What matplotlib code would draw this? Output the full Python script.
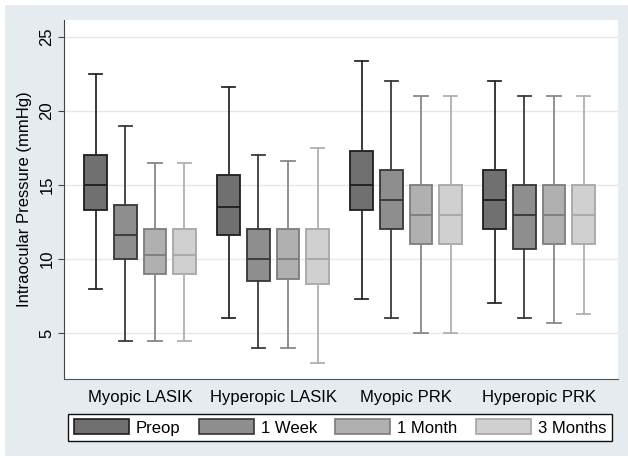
import matplotlib
matplotlib.use('Agg')
import matplotlib.pyplot as plt
from matplotlib.patches import Patch, Rectangle

plt.rcParams['font.family'] = ['Liberation Sans', 'DejaVu Sans']

# --- data ---
groups = ['Myopic LASIK', 'Hyperopic LASIK', 'Myopic PRK', 'Hyperopic PRK']
series = ['Preop', '1 Week', '1 Month', '3 Months']

# per series, one value per group: lower whisker, Q1, median, Q3, upper whisker
lo = [[8.0, 6.0, 7.3, 7.0],
      [4.5, 4.0, 6.0, 6.0],
      [4.5, 4.0, 5.0, 5.65],
      [4.5, 3.0, 5.0, 6.3]]
q1 = [[13.3, 11.65, 13.3, 12.0],
      [10.0, 8.5, 12.0, 10.65],
      [9.0, 8.65, 11.0, 11.0],
      [9.0, 8.35, 11.0, 11.0]]
med = [[15.0, 13.5, 15.0, 14.0],
       [11.65, 10.0, 14.0, 13.0],
       [10.3, 10.0, 13.0, 13.0],
       [10.3, 10.0, 13.0, 13.0]]
q3 = [[17.0, 15.7, 17.3, 16.0],
      [13.65, 12.0, 16.0, 15.0],
      [12.0, 12.0, 15.0, 15.0],
      [12.0, 12.0, 15.0, 15.0]]
hi = [[22.5, 21.65, 23.35, 22.0],
      [19.0, 17.0, 22.0, 21.0],
      [16.5, 16.65, 21.0, 21.0],
      [16.5, 17.5, 21.0, 21.0]]

fills = ['#707070', '#8e8e8e', '#b0b0b0', '#d0d0d0']
edges = ['#1e1e1e', '#363636', '#7c7c7c', '#a6a6a6']
whisk = ['#2a2a2a', '#3a3a3a', '#888888', '#b0b0b0']

fig = plt.figure(figsize=(6.28, 4.58), dpi=100, facecolor='white')
fig.patches.append(Rectangle((5 / 628, 2 / 458), 623 / 628, 451 / 458,
                             transform=fig.transFigure, facecolor='#e6ebef',
                             edgecolor='none', zorder=-10))
ax = fig.add_axes([64 / 628, 1 - 379 / 458, 554 / 628, 359 / 458])
ax.set_facecolor('white')

step = 0.2226
for s in range(4):
    stats = []
    for g in range(4):
        stats.append(dict(whislo=lo[s][g], q1=q1[s][g], med=med[s][g],
                          q3=q3[s][g], whishi=hi[s][g], fliers=[]))
    pos = [g + (s - 1.5) * step for g in range(4)]
    ax.bxp(stats, positions=pos, widths=0.17, capwidths=0.1, patch_artist=True,
           showfliers=False, manage_ticks=False,
           boxprops=dict(facecolor=fills[s], edgecolor=edges[s], linewidth=1.3),
           medianprops=dict(color=edges[s], linewidth=1.3),
           whiskerprops=dict(color=whisk[s], linewidth=1.3),
           capprops=dict(color=whisk[s], linewidth=1.3))

ax.set_xlim(-0.572, 3.593)
ax.set_ylim(1.9, 26.15)
ax.set_xticks(range(4))
ax.set_xticklabels(groups, fontsize=12)
ax.tick_params(axis='x', length=0, pad=8)
ax.set_yticks([5, 10, 15, 20, 25])
ax.set_yticklabels(['5', '10', '15', '20', '25'], rotation=90, va='center', fontsize=12)
ax.tick_params(axis='y', length=4, color='#444444', pad=3)
ax.yaxis.grid(True, color='#e2e9ef', linewidth=1)
ax.set_axisbelow(True)
for side in ['top', 'right']:
    ax.spines[side].set_visible(False)
ax.spines['left'].set_color('#444444')
ax.spines['bottom'].set_color('#555555')
ax.set_ylabel('Intraocular Pressure (mmHg)', fontsize=12, labelpad=5)

handles = [Patch(facecolor=fills[i], edgecolor=edges[i], linewidth=1.2)
           for i in range(4)]
leg = fig.legend(handles, series, ncol=4, loc='center',
                 bbox_to_anchor=(340 / 628, 1 - 427.5 / 458), fontsize=12,
                 handlelength=3.3, handleheight=1.0, handletextpad=0.42,
                 columnspacing=1.1, borderpad=0.35, fancybox=False,
                 frameon=True, edgecolor='#111111', framealpha=1)
leg.get_frame().set_linewidth(1.0)

fig.savefig('out.png', dpi=100, facecolor='white')
